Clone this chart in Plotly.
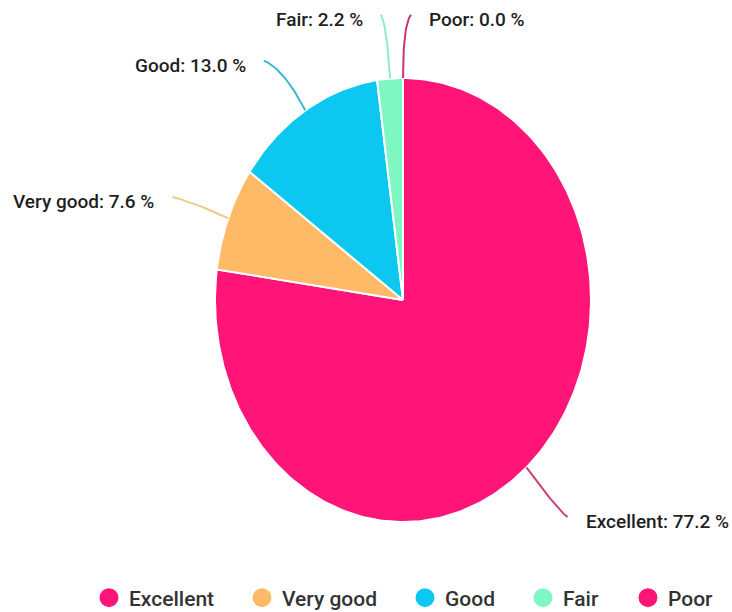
import numpy as np
import plotly.graph_objects as go

# Ratings breakdown
categories = ["Excellent", "Very good", "Good", "Fair", "Poor"]
shares = [77.2, 7.6, 13.0, 2.2, 0.0]

slice_colors = ["#FF1478", "#FEBA66", "#0CC8F0", "#7EF7C3", "#FF1478"]
leader_colors = ["#C8407E", "#F2C98C", "#3CB8D2", "#8DEDC8", "#C8357A"]

# Canvas and pie geometry (px; the y axis runs downwards)
W, H = 732, 612
CX, CY = 403, 300
RX, RY = 188, 222

# Leader line shape per slice: radius of the bend and the final hook (px)
elbow_r = [1.26, 1.20, 1.22, 1.24, 1.24]
hook_dx = [9, -21, -20, -6, 8]
hook_dy = [6, -5, -8, -11, -10]

# Legend entry positions (px of the symbol centre)
legend_x = [109, 262, 425, 543, 648]
legend_y = 598


def rim(theta_deg, r=1.0):
    t = np.radians(theta_deg)
    return CX + r * RX * np.sin(t), CY - r * RY * np.cos(t)


fig = go.Figure()

total = sum(shares)
start = 0.0
annotations = []
t = np.linspace(0.0, 1.0, 40)
for i, (cat, val) in enumerate(zip(categories, shares)):
    span = 360.0 * val / total
    end = start + span
    n = max(2, int(np.ceil(span / 1.0)) + 1)
    th = np.linspace(start, end, n)
    px, py = rim(th)
    xs = np.concatenate([[CX], px, [CX]])
    ys = np.concatenate([[CY], py, [CY]])
    fig.add_trace(go.Scatter(
        x=xs, y=ys, mode="lines", fill="toself",
        fillcolor=slice_colors[i],
        line=dict(color="white", width=2),
        legendgroup=cat, showlegend=False,
        hoverinfo="text", hoveron="fills",
        text=f"{cat}: {val:.1f} %",
    ))

    # leader line: quadratic curve from the slice middle out to the label
    mid = start + span / 2.0
    x0, y0 = rim(mid, 1.0)
    x1, y1 = rim(mid, elbow_r[i])
    x2, y2 = x1 + hook_dx[i], y1 + hook_dy[i]
    bx = (1 - t) ** 2 * x0 + 2 * (1 - t) * t * x1 + t ** 2 * x2
    by = (1 - t) ** 2 * y0 + 2 * (1 - t) * t * y1 + t ** 2 * y2
    fig.add_trace(go.Scatter(
        x=bx, y=by, mode="lines",
        line=dict(color=leader_colors[i], width=2),
        showlegend=False, hoverinfo="skip", legendgroup=cat,
    ))

    right_side = np.sin(np.radians(mid)) >= 0
    annotations.append(dict(
        x=x2, y=y2 + 5, xref="x", yref="y",
        text=f"{cat}: {val:.1f} %", showarrow=False,
        xanchor="left" if right_side else "right", yanchor="middle",
        xshift=16 if right_side else -16,
        font=dict(family="Roboto", size=19, color="#1F1F1F", weight=500),
    ))
    start = end

# One legend per entry so each can sit at its own spot along the bottom row
legends = {}
for i, cat in enumerate(categories):
    key = "legend" if i == 0 else f"legend{i + 1}"
    fig.add_trace(go.Scatter(
        x=[None], y=[None], mode="markers", name=cat,
        marker=dict(color=slice_colors[i], size=16, symbol="circle",
                    line=dict(color=slice_colors[i], width=3)),
        legendgroup=cat, legend=key, showlegend=True,
    ))
    legends[key] = dict(
        x=(legend_x[i] - 20) / W, y=1 - legend_y / H,
        xanchor="left", yanchor="middle", orientation="h",
        bgcolor="rgba(0,0,0,0)", borderwidth=0,
        font=dict(family="Roboto", size=21, color="#333333", weight=500),
    )

fig.update_layout(
    width=W, height=H,
    margin=dict(l=0, r=0, t=0, b=0, autoexpand=False),
    paper_bgcolor="white", plot_bgcolor="white",
    xaxis=dict(range=[0, W], visible=False, fixedrange=True),
    yaxis=dict(range=[H, 0], visible=False, fixedrange=True),
    annotations=annotations,
    **legends,
)

fig.write_html("out.html")
